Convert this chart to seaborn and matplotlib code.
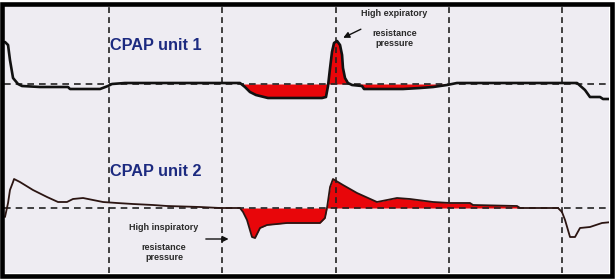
import numpy as np
import pandas as pd
import matplotlib
matplotlib.use("Agg")
import matplotlib.pyplot as plt
from matplotlib.patches import Rectangle
import seaborn as sns

# ---- data (time in s, pressure relative to CPAP level) ----
unit1_time = [0.082, 0.109, 0.126, 0.153, 0.197, 0.232, 0.391, 0.638, 0.656, 0.921,
              0.991, 1.026, 1.141, 2.156, 2.200, 2.244, 2.297, 2.403, 2.880, 2.915,
              2.933, 2.951, 2.968, 2.986, 3.013, 3.039, 3.057, 3.065, 3.083, 3.109,
              3.145, 3.233, 3.251, 3.595, 3.745, 3.860, 3.983, 4.071, 5.131, 5.201,
              5.245, 5.334, 5.360, 5.440]
unit1_pres = [4.2, 3.9, 2.4, 0.6, 0.0, -0.2, -0.3, -0.3, -0.5, -0.5,
              -0.2, 0.0, 0.1, 0.1, -0.3, -0.8, -1.1, -1.4, -1.4, -1.3,
              -0.2, 1.6, 3.2, 4.1, 4.3, 3.9, 2.9, 1.6, 0.6, 0.1,
              -0.1, -0.2, -0.5, -0.5, -0.4, -0.3, -0.1, 0.1, 0.1, -0.6,
              -1.3, -1.3, -1.5, -1.5]

unit2_time = [0.082, 0.109, 0.126, 0.153, 0.162, 0.214, 0.329, 0.453, 0.550, 0.629,
              0.682, 0.771, 0.859, 0.947, 1.071, 1.212, 1.388, 1.512, 1.803, 1.980,
              2.156, 2.183, 2.218, 2.262, 2.289, 2.333, 2.395, 2.483, 2.571, 2.686,
              2.862, 2.906, 2.924, 2.951, 2.977, 3.065, 3.189, 3.365, 3.454, 3.542,
              3.657, 3.860, 4.010, 4.186, 4.213, 4.601, 4.628, 4.963, 4.998, 5.025,
              5.069, 5.113, 5.157, 5.245, 5.351, 5.440]
unit2_pres = [-0.9, 0.5, 1.8, 2.6, 2.9, 2.6, 1.8, 1.1, 0.6, 0.6,
              0.9, 1.0, 0.8, 0.6, 0.5, 0.4, 0.3, 0.2, 0.1, 0.0,
              0.0, -0.4, -1.2, -2.9, -3.0, -2.0, -1.7, -1.6, -1.5, -1.5,
              -1.5, -1.0, 0.0, 2.1, 2.9, 2.3, 1.5, 0.6, 0.8, 1.0,
              0.9, 0.6, 0.5, 0.5, 0.3, 0.2, 0.0, 0.0, -0.4, -1.2,
              -2.9, -2.9, -2.0, -1.9, -1.5, -1.4]

red1_range = (2.15, 3.99)
red2_range = (2.15, 4.63)
grid_times = [1, 2, 3, 4, 5]

labels = ["CPAP unit 1", "CPAP unit 2"]
note1 = ["High expiratory", "resistance", "pressure"]
note2 = ["High inspiratory", "resistance", "pressure"]

# ---- style ----
sns.set_theme(style="white")
plt.rcParams["font.family"] = ["Liberation Sans", "DejaVu Sans"]

W, H = 616, 280
fig = plt.figure(figsize=(W / 100, H / 100), dpi=100, facecolor="white")

bg = "#eeecf2"
red = "#e8060a"
navy = "#1c2a80"
txt = "#2a2a2a"

ax1 = fig.add_axes([4 / W, 1 - 143 / H, 605 / W, 139 / H])
ax2 = fig.add_axes([4 / W, 1 - 273 / H, 605 / W, 130 / H])

xlim = (0.0733, 5.413)
ax1.set_ylim(-5.9, 8.0)
ax2.set_ylim(-6.5, 6.5)

dash = (0, (4, 3))
for ax, t, p, rr, col, lw in [
    (ax1, unit1_time, unit1_pres, red1_range, "#111111", 1.9),
    (ax2, unit2_time, unit2_pres, red2_range, "#2b1512", 1.3),
]:
    ax.set_facecolor(bg)
    ax.set_xlim(*xlim)
    t_arr = np.array(t)
    p_arr = np.array(p)
    m = (t_arr >= rr[0]) & (t_arr <= rr[1])
    ax.fill_between(t_arr[m], p_arr[m], 0, color=red, lw=0, zorder=1)
    ax.axhline(0, color="#222222", lw=1.2, ls=dash, zorder=2)
    for g in grid_times:
        ax.axvline(g, color="#222222", lw=1.2, ls=(0, (3.5, 2.5)), zorder=2)
    df = pd.DataFrame({"t": t, "p": p})
    sns.lineplot(data=df, x="t", y="p", ax=ax, color=col, lw=lw,
                 estimator=None, sort=False, zorder=3)
    ax.set_xticks([])
    ax.set_yticks([])
    ax.set_xlabel("")
    ax.set_ylabel("")
    for s in ax.spines.values():
        s.set_visible(False)

ax1.text(1.01, 3.8, labels[0], color=navy, fontsize=11.7, fontweight="bold",
         ha="left", va="center", zorder=4)
ax2.text(1.01, 3.7, labels[1], color=navy, fontsize=11.7, fontweight="bold",
         ha="left", va="center", zorder=4)

for s, y in zip(note1, [7.1, 5.1, 4.0]):
    ax1.text(3.52, y, s, color=txt, fontsize=6.5, fontweight="bold",
             ha="center", va="center", zorder=4)
ax1.annotate("", xy=(3.045, 4.5), xytext=(3.245, 5.6),
             arrowprops=dict(arrowstyle="-|>", color="#111111", lw=1.0,
                             mutation_scale=9), zorder=4)

for s, y in zip(note2, [-2.0, -4.0, -5.0]):
    ax2.text(1.485, y, s, color=txt, fontsize=6.5, fontweight="bold",
             ha="center", va="center", zorder=4)
ax2.annotate("", xy=(2.08, -3.1), xytext=(1.83, -3.1),
             arrowprops=dict(arrowstyle="-|>", color="#111111", lw=1.0,
                             mutation_scale=9), zorder=4)

# thick black frame
fig.patches.append(Rectangle((2 / W, 4.5 / H), 609.5 / W, 271 / H,
                             transform=fig.transFigure, fill=False,
                             edgecolor="black", lw=3.3, zorder=10))

fig.savefig("out.png", dpi=100, facecolor="white")
